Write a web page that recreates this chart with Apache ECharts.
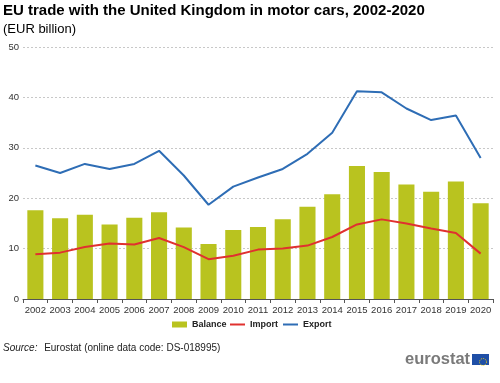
<!DOCTYPE html>
<html>
<head>
<meta charset="utf-8">
<script src="https://cdn.jsdelivr.net/npm/echarts@6/dist/echarts.min.js"></script>
<style>html,body{margin:0;padding:0;background:#fff}#c{width:500px;height:383px}</style>
</head>
<body>
<div id="c"></div>
<script>
var years = ['2002','2003','2004','2005','2006','2007','2008','2009','2010','2011','2012','2013','2014','2015','2016','2017','2018','2019','2020'];
var balance = [17.6,16.0,16.7,14.8,16.1,17.2,14.2,10.9,13.7,14.3,15.8,18.3,20.8,26.4,25.2,22.7,21.3,23.3,19.0];
var importVals = [8.9,9.2,10.3,11.0,10.8,12.1,10.3,7.9,8.6,9.8,10.0,10.6,12.3,14.8,15.8,15.0,14.0,13.1,9.0];
var exportVals = [26.5,25.0,26.8,25.8,26.8,29.4,24.5,18.7,22.3,24.1,25.8,28.8,33.0,41.2,41.0,37.8,35.5,36.4,28.0];
var yTicks = [0,10,20,30,40,50];

var FONT = 'Liberation Sans, Arial, sans-serif';
var chart = echarts.init(document.getElementById('c'), null, {renderer:'canvas'});
chart.setOption({
  animation: false,
  textStyle: {fontFamily: FONT},
  title: {
    text: 'EU trade with the United Kingdom in motor cars, 2002-2020',
    left: 3, top: 3, padding: 0,
    textStyle: {fontSize: 15, fontWeight: 'bold', color: '#000', fontFamily: FONT}
  },
  graphic: [
    {type:'text', left: 3, top: 23, style:{text:'(EUR billion)', fontSize: 13, fill:'#000', fontFamily: FONT}},
    {type:'text', left: 3, top: 342, style:{rich:{i:{fontStyle:'italic', fontSize:10, fill:'#222', fontFamily:FONT}, n:{fontSize:10, fill:'#222', fontFamily:FONT}}, text:'{i|Source:}  {n|Eurostat (online data code: DS-018995)}'}},
    {type:'text', left: 405, top: 351, style:{text:'eurostat', fontSize: 16.5, fontWeight:'bold', fill:'#7a7a7a', fontFamily: FONT}},
    {type:'rect', left: 472, top: 354, shape:{width:17, height:11}, style:{fill:'#1f4fa6'}},
    {type:'circle', left: 477, top: 356, shape:{r:3.5}, style:{fill:'none', stroke:'#f2d20c', lineWidth:1, lineDash:[1,1]}}
  ],
  legend: [
    {
      left: 172, top: 320,
      itemWidth: 15, itemHeight: 6, padding: 0,
      textStyle: {fontSize: 9, fontWeight: 'bold', color: '#222', fontFamily: FONT},
      data: [{name:'Balance', icon:'rect'}]
    },
    {
      left: 230, top: 320,
      itemWidth: 15, itemHeight: 2, itemGap: 5, padding: 0,
      icon: 'rect',
      textStyle: {fontSize: 9, fontWeight: 'bold', color: '#222', fontFamily: FONT},
      data: [{name:'Import'},{name:'Export'}]
    }
  ],
  grid: {left: 23, right: 7, top: 47, bottom: 84, containLabel: false},
  xAxis: {
    type: 'category', data: years,
    axisLine: {lineStyle: {color: '#555'}},
    axisTick: {show: true, length: 4, lineStyle:{color:'#555'}},
    axisLabel: {fontSize: 9.5, color: '#333', margin: 6, interval: 0}
  },
  yAxis: {
    type: 'value', min: 0, max: 50, interval: 10,
    axisLine: {show: false}, axisTick: {show: false},
    axisLabel: {fontSize: 9.5, color: '#333', margin: 4,
      formatter: function(v){ return yTicks.indexOf(v) >= 0 ? String(v) : ''; }},
    splitLine: {lineStyle: {color: '#c8c8c8', type: [2,2], width: 1}}
  },
  series: [
    {name:'Balance', type:'bar', data: balance, barCategoryGap: '35%', itemStyle:{color:'#b9c31f'}},
    {name:'Import', type:'line', data: importVals, symbol:'none', lineStyle:{color:'#e0312f', width:2}, itemStyle:{color:'#e0312f'}},
    {name:'Export', type:'line', data: exportVals, symbol:'none', lineStyle:{color:'#2e6db5', width:2}, itemStyle:{color:'#2e6db5'}}
  ]
});
</script>
</body>
</html>
